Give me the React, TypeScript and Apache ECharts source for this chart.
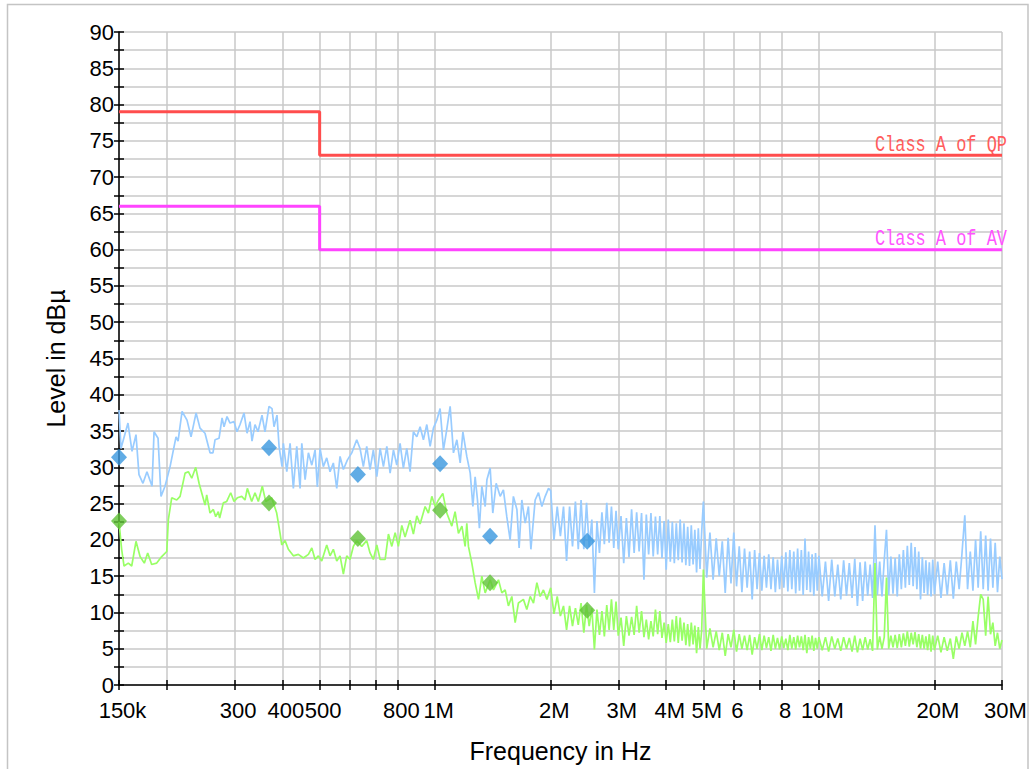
import React, { useEffect, useRef } from 'react';
import * as echarts from 'echarts';

// ---------- axis definitions ----------
const gridFreqMHz = [0.15, 0.2, 0.3, 0.4, 0.5, 0.6, 0.7, 0.8, 1, 2, 3, 4, 5, 6, 7, 8, 10, 20, 30];
const labelFreqMHz = [0.15, 0.3, 0.4, 0.5, 0.8, 1, 2, 3, 4, 5, 6, 8, 10, 20, 30];
const labelTexts = ['150k', '300', '400', '500', '800', '1M', '2M', '3M', '4M', '5M', '6', '8', '10M', '20M', '30M'];

// ---------- limit lines ----------
const qpLimitF = [0.15, 0.5, 0.5, 30];
const qpLimitV = [79, 79, 73, 73];
const avLimitF = [0.15, 0.5, 0.5, 30];
const avLimitV = [66, 66, 60, 60];

// ---------- final measurement markers ----------
const markerF = [0.15, 0.369, 0.629, 1.03, 1.39, 2.49];
const markerQP = [31.4, 32.7, 29.0, 30.5, 20.5, 19.8];
const markerAV = [22.6, 25.1, 20.2, 24.1, 14.1, 10.3];

// ---------- peak scan 150 kHz – 2 MHz ----------
const peakLowF = [
  0.150, 0.1518, 0.1583, 0.1622, 0.1661, 0.1691, 0.1732, 0.1774, 0.1829, 0.1851,
  0.1896, 0.1930, 0.1977, 0.2038, 0.2112, 0.2138, 0.2190, 0.2256, 0.2311, 0.2382,
  0.2439, 0.2513, 0.2590, 0.2636, 0.2669, 0.2734, 0.2784, 0.2817, 0.2868, 0.2920,
  0.2991, 0.3045, 0.3101, 0.3176, 0.3234, 0.3293, 0.3332, 0.3392, 0.3454, 0.3538,
  0.3602, 0.3690, 0.3757, 0.3802, 0.3871, 0.3919, 0.3990, 0.4022, 0.4105, 0.4187,
  0.4270, 0.4358, 0.4446, 0.4492, 0.4582, 0.4674, 0.4770, 0.4865, 0.4931, 0.5012,
  0.5112, 0.5217, 0.5322, 0.5428, 0.5540, 0.5651, 0.5765, 0.5903, 0.6062, 0.6246,
  0.6371, 0.6499, 0.6632, 0.6765, 0.6901, 0.7046, 0.7188, 0.7331, 0.7482, 0.7632,
  0.7786, 0.7942, 0.8101, 0.8263, 0.8433, 0.8602, 0.8775, 0.8957, 0.9136, 0.9319,
  0.9511, 0.9702, 0.9895, 1.010, 1.030, 1.051, 1.072, 1.094, 1.116, 1.139,
  1.162, 1.181, 1.209, 1.234, 1.254, 1.271, 1.289, 1.304, 1.323, 1.350,
  1.364, 1.391, 1.413, 1.442, 1.477, 1.506, 1.537, 1.568, 1.599, 1.633,
  1.655, 1.682, 1.716, 1.750, 1.776, 1.822, 1.859, 1.897, 1.935, 1.974
];
const peakLowV = [
  37.9, 32.6, 36.1, 32.2, 34.5, 29.0, 27.8, 29.4, 27.4, 34.9,
  34.0, 26.0, 27.4, 30.1, 34.2, 33.6, 37.7, 36.5, 34.2, 37.5,
  35.4, 34.7, 32.0, 32.0, 33.8, 34.0, 36.8, 35.6, 37.0, 36.1,
  36.3, 34.9, 35.9, 37.5, 34.7, 36.3, 33.6, 35.9, 34.9, 37.2,
  34.9, 38.4, 38.1, 35.6, 37.2, 32.9, 30.1, 33.3, 29.4, 33.3,
  27.1, 32.9, 27.1, 33.3, 28.3, 32.0, 30.3, 32.4, 27.3, 32.6,
  30.1, 31.3, 29.4, 30.6, 27.1, 31.5, 29.7, 31.0, 32.0, 33.8,
  32.6, 30.1, 32.9, 29.7, 32.4, 28.7, 32.6, 30.1, 32.9, 29.2,
  32.4, 30.3, 33.3, 29.9, 32.6, 29.4, 34.9, 34.2, 35.6, 33.8,
  35.9, 32.9, 35.4, 36.5, 38.1, 32.4, 35.2, 38.4, 32.0, 33.8,
  30.6, 34.9, 31.5, 29.2, 24.6, 28.7, 25.5, 21.6, 27.4, 24.6,
  28.3, 29.9, 23.7, 27.8, 26.0, 26.9, 23.2, 20.0, 26.0, 24.2,
  18.9, 25.5, 22.3, 24.6, 18.7, 25.5, 26.5, 24.6, 26.0, 27.1
];

// ---------- average scan 150 kHz – 2 MHz ----------
const avgLowF = [
  0.150, 0.1524, 0.1546, 0.1586, 0.1619, 0.1661, 0.1702, 0.1746, 0.1782, 0.1825,
  0.1881, 0.1938, 0.1998, 0.2017, 0.2058, 0.2121, 0.2164, 0.2230, 0.2274, 0.2321,
  0.2377, 0.2425, 0.2514, 0.2539, 0.2590, 0.2642, 0.2680, 0.2722, 0.2744, 0.2805,
  0.2863, 0.2932, 0.2991, 0.3051, 0.3133, 0.3195, 0.3240, 0.3326, 0.3392, 0.3461,
  0.3544, 0.3618, 0.3750, 0.3864, 0.3943, 0.3983, 0.4063, 0.4144, 0.4270, 0.4400,
  0.4535, 0.4674, 0.4770, 0.4865, 0.4961, 0.5063, 0.5217, 0.5322, 0.5428, 0.5540,
  0.5651, 0.5765, 0.5882, 0.6000, 0.6120, 0.6246, 0.6436, 0.6632, 0.6765, 0.6901,
  0.7046, 0.7188, 0.7407, 0.7555, 0.7709, 0.7865, 0.8019, 0.8185, 0.8348, 0.8602,
  0.8775, 0.8957, 0.9136, 0.9414, 0.9603, 0.9801, 1.000, 1.020, 1.047, 1.072,
  1.105, 1.127, 1.150, 1.174, 1.197, 1.209, 1.221, 1.246, 1.271, 1.297,
  1.323, 1.350, 1.391, 1.419, 1.462, 1.492, 1.522, 1.552, 1.584, 1.616,
  1.648, 1.698, 1.733, 1.769, 1.804, 1.841, 1.878, 1.915, 1.955
];
const avgLowV = [
  22.5, 18.7, 16.4, 16.8, 16.4, 19.8, 17.7, 16.8, 18.2, 16.6,
  16.8, 17.7, 18.4, 22.8, 25.8, 25.5, 26.0, 29.2, 29.4, 28.5,
  30.0, 27.8, 24.8, 26.2, 23.7, 24.2, 23.2, 23.9, 23.0, 25.1,
  25.3, 26.5, 25.3, 25.8, 26.0, 25.5, 27.1, 25.3, 26.5, 25.3,
  27.4, 25.3, 25.8, 23.7, 20.9, 19.3, 19.9, 18.7, 17.8, 18.0,
  17.5, 18.0, 18.9, 17.3, 17.8, 17.1, 19.3, 17.8, 18.7, 17.1,
  17.8, 15.3, 17.8, 17.3, 19.1, 19.9, 19.1, 19.9, 18.2, 17.3,
  19.3, 17.3, 17.3, 20.8, 19.1, 21.0, 19.1, 22.0, 20.4, 22.7,
  20.8, 23.3, 22.2, 24.6, 23.7, 26.0, 24.6, 25.5, 26.4, 23.7,
  21.9, 23.9, 20.9, 21.9, 19.1, 22.3, 19.1, 16.8, 14.1, 11.8,
  15.0, 12.7, 14.5, 13.1, 14.5, 12.7, 13.1, 10.9, 12.2, 8.6,
  11.3, 11.8, 10.4, 12.2, 11.3, 14.1, 12.2, 13.1, 11.8
];

// ---------- dense scan 2 MHz – 30 MHz (shared frequency points) ----------
const bandF = [
  2.00, 2.04, 2.08, 2.12, 2.16, 2.20, 2.24, 2.28, 2.32, 2.36, 2.40, 2.44, 2.48,
  2.52, 2.56, 2.60, 2.64, 2.68, 2.72, 2.76, 2.80, 2.84, 2.88, 2.92, 2.96, 3.00,
  3.05, 3.10, 3.15, 3.20, 3.25, 3.30, 3.35, 3.40, 3.45, 3.50,
  3.55, 3.60, 3.65, 3.70, 3.75, 3.80, 3.85, 3.90, 3.95, 4.00,
  4.05, 4.10, 4.15, 4.20, 4.25, 4.30, 4.35, 4.40, 4.45, 4.50,
  4.55, 4.60, 4.65, 4.70, 4.75, 4.80, 4.85, 4.90, 4.95, 5.00,
  5.1, 5.2, 5.3, 5.4, 5.5, 5.6, 5.7, 5.8, 5.9, 6.0,
  6.1, 6.2, 6.3, 6.4, 6.5, 6.6, 6.7, 6.8, 6.9, 7.0,
  7.1, 7.2, 7.3, 7.4, 7.5, 7.6, 7.7, 7.8, 7.9, 8.0,
  8.1, 8.2, 8.3, 8.4, 8.5, 8.6, 8.7, 8.8, 8.9, 9.0,
  9.1, 9.2, 9.3, 9.4, 9.5, 9.6, 9.7, 9.8, 9.9, 10.0,
  10.2, 10.4, 10.6, 10.8, 11.0, 11.2, 11.4, 11.6, 11.8, 12.0,
  12.2, 12.4, 12.6, 12.8, 13.0, 13.2, 13.4, 13.6, 13.8, 14.0,
  14.2, 14.4, 14.6, 14.8, 15.0, 15.2, 15.4, 15.6, 15.8, 16.0,
  16.2, 16.4, 16.6, 16.8, 17.0, 17.2, 17.4, 17.6, 17.8, 18.0,
  18.2, 18.4, 18.6, 18.8, 19.0, 19.2, 19.4, 19.6, 19.8, 20.0,
  20.4, 20.8, 21.2, 21.6, 22.0, 22.4, 22.8, 23.2, 23.6, 24.0,
  24.4, 24.8, 25.2, 25.6, 26.0, 26.4, 26.8, 27.2, 27.6, 28.0,
  28.4, 28.8, 29.2, 29.6, 30.0
];
const peakBandV = [
  26.8, 20.0, 24.6, 20.5, 24.6, 17.1, 24.6, 19.1, 25.3, 18.7, 25.5, 18.7, 25.1,
  19.0, 22.8, 12.7, 22.6, 18.2, 23.8, 19.4, 25.1, 19.6, 24.6, 18.9, 24.0, 18.7,
  23.3, 16.8, 23.0, 17.6, 24.2, 18.2, 23.8, 18.4, 23.7, 14.5,
  23.5, 18.0, 23.7, 17.7, 23.2, 18.0, 23.3, 17.5, 22.6, 15.9,
  22.8, 17.0, 22.5, 16.8, 22.3, 17.2, 22.8, 16.9, 22.3, 16.5,
  21.8, 16.4, 22.0, 16.6, 21.4, 15.5, 21.6, 16.0, 21.2, 25.3,
  14.8, 21.0, 14.5, 20.2, 15.0, 19.8, 12.7, 20.3, 14.0, 21.0,
  13.6, 19.1, 12.8, 18.8, 13.4, 18.4, 11.8, 18.6, 13.2, 18.2,
  13.0, 17.8, 13.4, 18.0, 13.2, 17.6, 12.8, 17.3, 13.2, 17.8,
  13.4, 18.3, 12.9, 18.6, 13.2, 18.4, 12.6, 18.8, 13.0, 18.6,
  12.4, 20.2, 13.1, 18.4, 12.8, 18.0, 12.3, 18.2, 13.0, 17.8,
  12.2, 17.0, 11.6, 17.3, 12.2, 16.6, 11.8, 17.2, 12.3, 16.8,
  12.0, 17.4, 10.9, 16.9, 11.6, 17.0, 12.3, 16.6, 12.0, 22.0,
  12.4, 17.0, 12.2, 17.2, 21.4, 12.4, 17.7, 12.6, 17.5, 12.2,
  18.0, 13.2, 18.6, 13.4, 19.2, 13.8, 19.6, 13.6, 19.0, 13.2,
  18.4, 11.8, 17.6, 12.7, 17.2, 12.4, 16.9, 12.2, 17.3, 12.5,
  17.0, 12.0, 16.8, 12.4, 17.2, 11.9, 17.0, 13.2, 18.2, 23.4,
  13.2, 18.4, 13.0, 20.0, 13.4, 21.2, 13.2, 20.6, 13.0, 20.2,
  13.4, 19.6, 12.8, 17.7, 14.6
];
const avgBandV = [
  13.4, 9.8, 12.2, 9.5, 10.9, 7.6, 10.9, 8.1, 10.6, 8.3, 11.3, 7.2, 11.0,
  8.1, 10.6, 4.9, 10.4, 6.9, 10.2, 6.7, 11.0, 7.6, 11.8, 7.6, 11.5, 6.8,
  9.3, 5.4, 9.5, 6.8, 9.4, 6.9, 10.9, 7.2, 10.2, 6.6,
  9.0, 6.3, 8.8, 6.7, 10.4, 7.0, 10.2, 6.5, 8.6, 5.8,
  8.4, 5.9, 9.0, 6.0, 9.5, 5.8, 9.3, 6.1, 8.6, 5.5,
  8.4, 5.3, 8.6, 5.6, 8.2, 4.4, 8.0, 5.0, 7.6, 15.9,
  5.0, 7.8, 5.2, 7.4, 4.8, 7.2, 4.0, 7.0, 5.2, 7.6,
  4.6, 7.0, 5.0, 6.8, 4.8, 6.9, 4.2, 6.6, 5.0, 7.0,
  4.8, 6.8, 5.1, 6.6, 4.7, 6.9, 5.0, 6.5, 4.9, 6.7,
  5.1, 6.4, 4.8, 6.9, 5.0, 6.6, 4.9, 6.8, 5.2, 6.7,
  4.8, 6.9, 4.4, 6.6, 5.0, 6.8, 4.7, 6.5, 5.0, 6.6,
  4.8, 6.6, 4.6, 6.7, 5.0, 6.4, 4.7, 6.6, 5.0, 6.5,
  4.6, 6.8, 4.5, 6.4, 4.8, 6.6, 4.9, 6.3, 4.7, 16.8,
  4.9, 6.7, 5.0, 6.6, 14.8, 5.0, 6.8, 5.2, 6.9, 5.1,
  7.0, 5.2, 7.1, 5.4, 7.4, 5.3, 7.2, 5.6, 7.3, 5.2,
  7.0, 5.0, 6.9, 5.0, 6.7, 4.8, 7.0, 4.6, 6.8, 4.8,
  6.8, 4.5, 6.6, 4.7, 6.4, 3.6, 6.7, 5.0, 7.2, 5.4,
  7.4, 5.2, 8.8, 5.6, 9.4, 12.5, 11.8, 6.8, 12.2, 7.0,
  8.6, 5.4, 7.2, 5.0, 6.2
];

const lx = (fMHz: number) => Math.log10(fMHz);
const pairs = (f: number[], v: number[]) => f.map((x, i) => [lx(x), v[i]]);

const FONT = '"Liberation Sans", Arial, sans-serif';

export default function App() {
  const ref = useRef<HTMLDivElement>(null);

  useEffect(() => {
    if (!ref.current) return;
    const chart = echarts.init(ref.current, undefined, { renderer: 'svg' });

    const xMin = lx(0.15);
    const xMax = lx(30);
    const tickVals = gridFreqMHz.map(lx);
    const labelVals = labelFreqMHz.map(lx);
    const fmtX = (v: number) => {
      const i = labelVals.findIndex((t) => Math.abs(t - v) < 1e-6);
      return i >= 0 ? labelTexts[i] : '';
    };

    const baseX = {
      type: 'value',
      min: xMin,
      max: xMax,
      position: 'bottom',
    };
    const baseY = {
      type: 'value',
      min: 0,
      max: 90,
      interval: 2.5,
      position: 'left',
    };

    chart.setOption({
      animation: false,
      backgroundColor: '#ffffff',
      grid: { left: 119, right: 33, top: 32, bottom: 84, containLabel: false, outerBoundsMode: 'none' },
      xAxis: [
        {
          ...baseX,
          name: 'Frequency in Hz',
          nameLocation: 'middle',
          nameGap: 53,
          nameTextStyle: { fontSize: 25, color: '#000', fontFamily: FONT },
          axisLine: { show: true, onZero: false, lineStyle: { color: '#000', width: 1.5 } },
          axisTick: { show: true, inside: false, length: 5, customValues: tickVals, lineStyle: { color: '#000', width: 1.5 } },
          axisLabel: {
            show: true,
            customValues: labelVals,
            formatter: fmtX,
            fontSize: 22,
            color: '#000',
            fontFamily: FONT,
            margin: 14,
            padding: [0, 0, 0, 7],
            showMinLabel: true,
            showMaxLabel: true,
            hideOverlap: false,
          },
          splitLine: { show: true, lineStyle: { color: '#c9c9c9', width: 1.5 } },
        },
        {
          ...baseX,
          axisLine: { show: false, onZero: false },
          axisTick: { show: true, inside: true, length: 5, customValues: tickVals, lineStyle: { color: '#000', width: 1.5 } },
          axisLabel: { show: false },
          splitLine: { show: false },
        },
      ],
      yAxis: [
        {
          ...baseY,
          name: 'Level in dBµ',
          nameLocation: 'middle',
          nameGap: 51,
          nameTextStyle: { fontSize: 25, color: '#000', fontFamily: FONT },
          axisLine: { show: true, onZero: false, lineStyle: { color: '#000', width: 1.5 } },
          axisTick: { show: true, inside: false, length: 5, lineStyle: { color: '#000', width: 1.5 } },
          axisLabel: {
            show: true,
            formatter: (v: number) => (Math.abs(v % 5) < 1e-6 ? String(v) : ''),
            fontSize: 22,
            color: '#000',
            fontFamily: FONT,
            margin: 5,
            showMinLabel: true,
            showMaxLabel: true,
          },
          splitLine: { show: true, lineStyle: { color: '#c9c9c9', width: 1.5 } },
        },
        {
          ...baseY,
          axisLine: { show: false, onZero: false },
          axisTick: { show: true, inside: true, length: 5, lineStyle: { color: '#000', width: 1.5 } },
          axisLabel: { show: false },
          splitLine: { show: false },
        },
      ],
      series: [
        {
          name: 'Peak',
          type: 'line',
          xAxisIndex: 0,
          yAxisIndex: 0,
          data: [...pairs(peakLowF, peakLowV), ...pairs(bandF, peakBandV)],
          showSymbol: false,
          symbol: 'none',
          lineStyle: { color: '#99ccff', width: 1.7 },
          silent: true,
          z: 2,
        },
        {
          name: 'Average',
          type: 'line',
          xAxisIndex: 0,
          yAxisIndex: 0,
          data: [...pairs(avgLowF, avgLowV), ...pairs(bandF, avgBandV)],
          showSymbol: false,
          symbol: 'none',
          lineStyle: { color: '#99ff66', width: 1.7 },
          silent: true,
          z: 2,
        },
        {
          name: 'Class A of QP',
          type: 'line',
          data: pairs(qpLimitF, qpLimitV),
          showSymbol: false,
          symbol: 'none',
          lineStyle: { color: '#ff4d4d', width: 3 },
          silent: true,
          z: 3,
        },
        {
          name: 'Class A of AV',
          type: 'line',
          data: pairs(avLimitF, avLimitV),
          showSymbol: false,
          symbol: 'none',
          lineStyle: { color: '#ff44ff', width: 3 },
          silent: true,
          z: 3,
        },
        {
          name: 'QP final',
          type: 'scatter',
          data: pairs(markerF, markerQP),
          symbol: 'diamond',
          symbolSize: [16, 17],
          itemStyle: { color: '#3a97de' },
          silent: true,
          z: 5,
        },
        {
          name: 'AV final',
          type: 'scatter',
          data: pairs(markerF, markerAV),
          symbol: 'diamond',
          symbolSize: [16, 17],
          itemStyle: { color: '#5fc236' },
          silent: true,
          z: 5,
        },
      ],
    });

    const pQP = chart.convertToPixel({ seriesIndex: 2 }, [lx(30), 73]) as number[];
    const pAV = chart.convertToPixel({ seriesIndex: 3 }, [lx(30), 60]) as number[];
    const labelFont = '22px "Liberation Mono", "DejaVu Sans Mono", monospace';

    chart.setOption({
      graphic: [
        {
          id: 'frame',
          type: 'rect',
          silent: true,
          z: -10,
          shape: { x: 7.5, y: 4.5, width: 1020.5, height: 800 },
          style: { fill: 'none', stroke: '#c4c4c4', lineWidth: 1.5 },
        },
        {
          id: 'qpLabel',
          type: 'text',
          silent: true,
          x: pQP[0] + 5,
          y: pQP[1] + 1,
          scaleX: 0.77,
          style: { text: 'Class A of QP', fill: '#ff5c5c', font: labelFont, align: 'right', verticalAlign: 'bottom' },
        },
        {
          id: 'avLabel',
          type: 'text',
          silent: true,
          x: pAV[0] + 5,
          y: pAV[1] + 1,
          scaleX: 0.77,
          style: { text: 'Class A of AV', fill: '#ff55ff', font: labelFont, align: 'right', verticalAlign: 'bottom' },
        },
      ],
    });

    return () => chart.dispose();
  }, []);

  return <div ref={ref} style={{ position: 'fixed', left: 0, top: 0, width: 1035, height: 769 }} />;
}
